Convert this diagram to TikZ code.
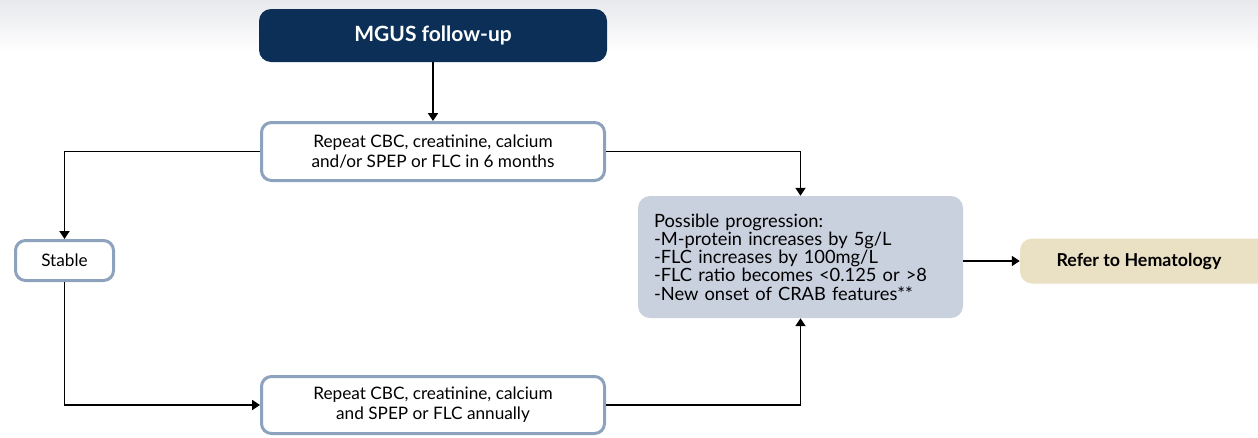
\documentclass[tikz,border=0pt]{standalone}
\usepackage{fontspec}
\setmainfont{Lato}
\usetikzlibrary{arrows.meta}
\definecolor{navy}{HTML}{0B2F56}
\definecolor{edgeblue}{HTML}{8DA2BC}
\definecolor{progfill}{HTML}{C9D1DE}
\definecolor{referfill}{HTML}{EAE0C4}
\definecolor{bgtop}{HTML}{E8E9ED}
\tikzset{
  box/.style={draw=edgeblue, line width=3pt, rounded corners=10pt, fill=white, align=center, inner sep=0pt, font=\fontsize{17.2}{20}\selectfont},
  flow/.style={draw=black, line width=1.8pt, -{Triangle[length=8pt,width=10pt]}},
}
\begin{document}
\begin{tikzpicture}[x=1pt,y=-1pt]
\useasboundingbox (0,0) rectangle (1258,437);
\shade[top color=bgtop, bottom color=white] (0,0) rectangle (1258,52);
\node[fill=navy, rounded corners=12pt, minimum width=348pt, minimum height=53pt, inner sep=0pt, text=white, font=\fontsize{21}{24}\selectfont\bfseries] (top) at (433,35.5) {MGUS follow-up};
\node[box, minimum width=343pt, minimum height=58pt] (six) at (433,151.5) {Repeat CBC, creatinine, calcium\\and/or SPEP or FLC in 6 months};
\node[box, minimum width=98pt, minimum height=40pt] (stable) at (64.5,260.5) {Stable};
\node[box, minimum width=343pt, minimum height=57pt] (annual) at (433,405) {Repeat CBC, creatinine, calcium\\and SPEP or FLC annually};
\node[fill=progfill, rounded corners=12pt, minimum width=325pt, minimum height=122pt, inner sep=0pt, align=left, text width=293pt, font=\fontsize{18.3}{18.2}\selectfont] (prog) at (800.5,257) {Possible progression:\\-M-protein increases by 5g/L\\-FLC increases by 100mg/L\\-FLC ratio becomes <0.125 or >8\\-New onset of CRAB features**};
\node[fill=referfill, rounded corners=12pt, minimum width=250pt, minimum height=45pt, inner sep=0pt, font=\fontsize{17.8}{20}\selectfont\bfseries, text=black] (refer) at (1145,261) {\hspace*{-12pt}Refer to Hematology};
\draw[flow] (top.south) -- (six.north);
\draw[flow] (six.west) -| (stable.north);
\draw[flow] (six.east) -| (prog.north);
\draw[flow] (stable.south) |- (annual.west);
\draw[flow] (annual.east) -| (prog.south);
\draw[flow] (prog.east |- refer.west) -- (refer.west);
\end{tikzpicture}
\end{document}
